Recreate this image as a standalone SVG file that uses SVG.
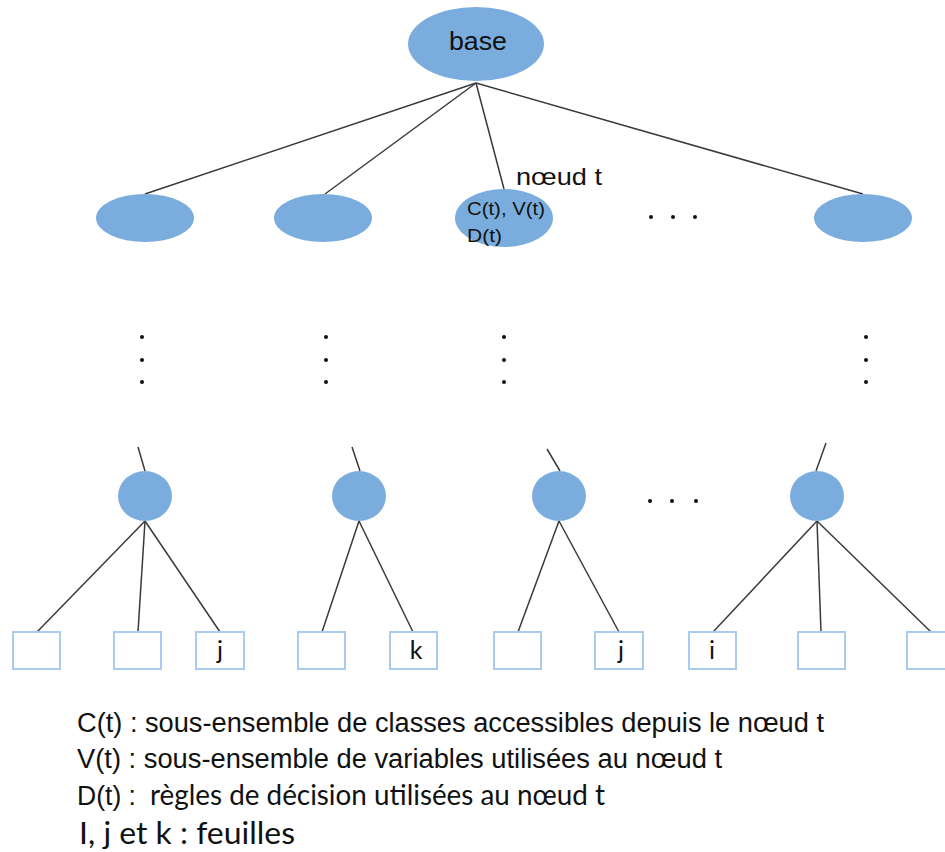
<svg xmlns="http://www.w3.org/2000/svg" width="945" height="852" viewBox="0 0 945 852">
<style>
.node{fill:#7aaddd;}
.leaf{fill:#ffffff;stroke:#a8cbef;stroke-width:2;}
.edge{stroke:#3a3a3a;stroke-width:1.5;fill:none;}
.dot{fill:#111;}
.ar{font-family:"Liberation Sans",Arial,sans-serif;fill:#111;}
.ca{font-family:Lato,"Open Sans",sans-serif;fill:#111;}
</style>
<rect width="945" height="852" fill="#ffffff"/>
<g id="connectors">
<line class="edge" x1="476" y1="83" x2="145" y2="194"/>
<line class="edge" x1="476" y1="83" x2="325" y2="194"/>
<line class="edge" x1="476" y1="83" x2="504" y2="189"/>
<line class="edge" x1="476" y1="83" x2="863" y2="194"/>
<line class="edge" x1="138" y1="447" x2="145" y2="471"/>
<line class="edge" x1="352" y1="447" x2="360" y2="471"/>
<line class="edge" x1="547" y1="449" x2="560" y2="471"/>
<line class="edge" x1="826" y1="443" x2="816" y2="471"/>
<line class="edge" x1="145" y1="521" x2="37" y2="632"/>
<line class="edge" x1="145" y1="521" x2="138" y2="632"/>
<line class="edge" x1="145" y1="521" x2="220" y2="632"/>
<line class="edge" x1="359" y1="521" x2="322" y2="632"/>
<line class="edge" x1="359" y1="521" x2="413" y2="632"/>
<line class="edge" x1="559" y1="521" x2="518" y2="632"/>
<line class="edge" x1="559" y1="521" x2="619" y2="632"/>
<line class="edge" x1="817" y1="521" x2="713" y2="632"/>
<line class="edge" x1="817" y1="521" x2="821" y2="632"/>
<line class="edge" x1="817" y1="521" x2="931" y2="632"/>
</g>
<g id="base">
<ellipse class="node" cx="476" cy="44" rx="68" ry="37"/>
<text class="ar" x="449" y="50" font-size="26" textLength="58" lengthAdjust="spacingAndGlyphs">base</text>
</g>
<g id="n1"><ellipse class="node" cx="145" cy="218" rx="49" ry="24"/></g>
<g id="n2"><ellipse class="node" cx="323" cy="218" rx="49" ry="24"/></g>
<g id="nt">
<ellipse class="node" cx="504" cy="218" rx="49" ry="29"/>
<text class="ar" x="516" y="185" font-size="24" textLength="86" lengthAdjust="spacingAndGlyphs">nœud t</text>
<text class="ar" x="467" y="215" font-size="18" textLength="78" lengthAdjust="spacingAndGlyphs">C(t), V(t)</text>
<text class="ar" x="467" y="242" font-size="18" textLength="35" lengthAdjust="spacingAndGlyphs">D(t)</text>
</g>
<g id="n4"><ellipse class="node" cx="863" cy="218" rx="49" ry="24"/></g>
<g id="dots">
<circle class="dot" cx="651" cy="217" r="2"/>
<circle class="dot" cx="673" cy="217" r="2"/>
<circle class="dot" cx="695" cy="217" r="2"/>
<circle class="dot" cx="142" cy="337" r="2"/>
<circle class="dot" cx="142" cy="360" r="2"/>
<circle class="dot" cx="142" cy="382" r="2"/>
<circle class="dot" cx="326" cy="337" r="2"/>
<circle class="dot" cx="326" cy="360" r="2"/>
<circle class="dot" cx="326" cy="382" r="2"/>
<circle class="dot" cx="504" cy="337" r="2"/>
<circle class="dot" cx="504" cy="360" r="2"/>
<circle class="dot" cx="504" cy="382" r="2"/>
<circle class="dot" cx="866" cy="337" r="2"/>
<circle class="dot" cx="866" cy="360" r="2"/>
<circle class="dot" cx="866" cy="382" r="2"/>
<circle class="dot" cx="650" cy="501" r="2"/>
<circle class="dot" cx="672" cy="501" r="2"/>
<circle class="dot" cx="696" cy="501" r="2"/>
</g>
<g id="c1"><ellipse class="node" cx="145" cy="496" rx="27" ry="25"/></g>
<g id="c2"><ellipse class="node" cx="359" cy="496" rx="27" ry="25"/></g>
<g id="c3"><ellipse class="node" cx="559" cy="496" rx="27" ry="25"/></g>
<g id="c4"><ellipse class="node" cx="817" cy="496" rx="27" ry="25"/></g>
<g id="l1"><rect class="leaf" x="13" y="632" width="47" height="37"/></g>
<g id="l2"><rect class="leaf" x="114" y="632" width="47" height="37"/></g>
<g id="l3"><rect class="leaf" x="196" y="632" width="48" height="37"/><text class="ca" x="220" y="659" font-size="25" text-anchor="middle">j</text></g>
<g id="l4"><rect class="leaf" x="298" y="632" width="47" height="37"/></g>
<g id="l5"><rect class="leaf" x="390" y="632" width="47" height="37"/><text class="ca" x="416" y="659" font-size="25" text-anchor="middle">k</text></g>
<g id="l6"><rect class="leaf" x="494" y="632" width="47" height="37"/></g>
<g id="l7"><rect class="leaf" x="595" y="632" width="48" height="37"/><text class="ca" x="621" y="659" font-size="25" text-anchor="middle">j</text></g>
<g id="l8"><rect class="leaf" x="689" y="632" width="47" height="37"/><text class="ca" x="712" y="659" font-size="25" text-anchor="middle">i</text></g>
<g id="l9"><rect class="leaf" x="798" y="632" width="47" height="37"/></g>
<g id="l10"><rect class="leaf" x="907" y="632" width="47" height="37"/></g>
<g id="legend">
<text class="ar" x="77" y="732" font-size="27" textLength="747" lengthAdjust="spacingAndGlyphs">C(t) : sous-ensemble de classes accessibles depuis le nœud t</text>
<text class="ar" x="77" y="768" font-size="27" textLength="645" lengthAdjust="spacingAndGlyphs">V(t) : sous-ensemble de variables utilisées au nœud t</text>
<text class="ar" x="77" y="805" font-size="27" textLength="59" lengthAdjust="spacingAndGlyphs">D(t) :</text>
<text class="ca" x="150" y="805" font-size="28" textLength="455" lengthAdjust="spacingAndGlyphs">règles de décision utilisées au nœud t</text>
<text class="ca" x="79" y="844" font-size="31" textLength="216" lengthAdjust="spacingAndGlyphs">I, j et k : feuilles</text>
</g>
</svg>
